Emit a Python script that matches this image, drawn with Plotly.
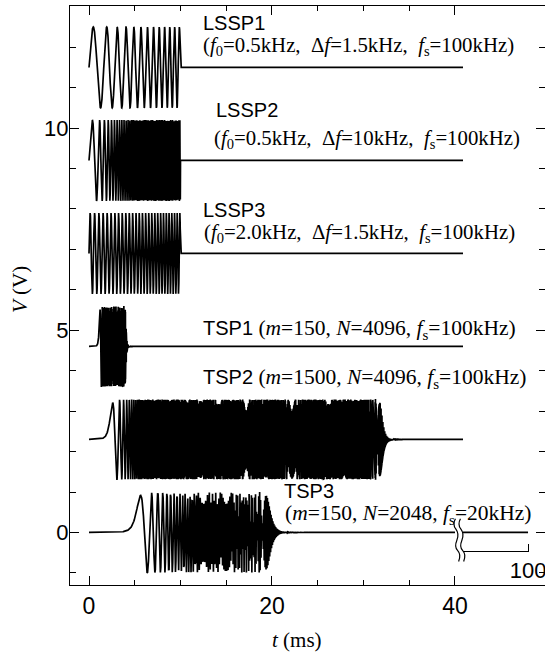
import numpy as np
import plotly.graph_objects as go

# ---------------- data (parameters) ----------------
lssp_names = ["LSSP1", "LSSP2", "LSSP3"]
lssp_f0_khz = [0.5, 0.5, 2.0]          # start frequency
lssp_df_khz = [1.5, 10.0, 1.5]         # sweep width
lssp_fs_khz = [100.0, 100.0, 100.0]    # sampling frequency
lssp_sweep_ms = [10.0, 10.0, 10.0]     # sweep duration
lssp_N = [4096, 4096, 4096]            # record length (samples)
lssp_offset_v = [11.5, 9.2, 6.9]       # vertical offset of each trace

tsp_names = ["TSP1", "TSP2", "TSP3"]
tsp_m = [150, 1500, 150]
tsp_N = [4096, 4096, 2048]
tsp_fs_khz = [100.0, 100.0, 20.0]
tsp_shift = [108, 218, 100]            # circular shift (samples)
tsp_offset_v = [4.6, 2.3, 0.0]

amplitude_v = [1.0, 1.0, 1.0]

x_tick_vals = [0, 20, 40]
y_tick_vals = [0, 5, 10]
break_ms = 40.0                        # axis break position (TSP3 tail)
inset_range_ms = [92.9, 100.15]        # part of TSP3 shown after the break
inset_tick_vals = [100]

SANS = "Liberation Sans"
SERIF = "Liberation Serif"
LW = 1.7

W, H_ = 545, 655
ML, MR, MT, MB = 70, 0, 6, 70
pw = W - ML - MR
ph = H_ - MT - MB


def px_x(px):
    return (px - ML) / pw


def px_y(py):
    return (H_ - MB - py) / ph


fig = go.Figure()

# LSSP signals
for name, f0, df, fs, T, N, off, a in zip(lssp_names, lssp_f0_khz, lssp_df_khz,
                                          lssp_fs_khz, lssp_sweep_ms, lssp_N,
                                          lssp_offset_v, amplitude_v):
    t = np.arange(N) / fs
    y = np.where(t < T, a * np.sin(2 * np.pi * (f0 * t + df * t ** 2 / (2 * T))), 0.0)
    fig.add_trace(go.Scatter(x=t, y=y + off, mode="lines",
                             line=dict(color="black", width=LW),
                             hoverinfo="skip", showlegend=False, name=name))

# TSP signals
for name, m, N, fs, sh, off in zip(tsp_names, tsp_m, tsp_N, tsp_fs_khz,
                                   tsp_shift, tsp_offset_v):
    k = np.arange(N // 2 + 1)
    H = np.exp(-1j * 4 * m * np.pi * k ** 2 / N ** 2)
    h = np.fft.irfft(H, n=N)
    h = h / np.max(np.abs(h))
    h = np.roll(h, sh)
    t = np.arange(N) / fs
    y = h + off
    if name == "TSP3":
        mask = t <= break_ms
        fig.add_trace(go.Scatter(x=t[mask], y=y[mask], mode="lines",
                                 line=dict(color="black", width=LW),
                                 hoverinfo="skip", showlegend=False, name=name))
        mask2 = (t >= inset_range_ms[0]) & (t <= 100.0)
        fig.add_trace(go.Scatter(x=t[mask2], y=y[mask2], mode="lines",
                                 xaxis="x2", yaxis="y",
                                 line=dict(color="black", width=LW),
                                 hoverinfo="skip", showlegend=False,
                                 name=name + " tail"))
    else:
        fig.add_trace(go.Scatter(x=t, y=y, mode="lines",
                                 line=dict(color="black", width=LW),
                                 hoverinfo="skip", showlegend=False, name=name))

# ---------------- text labels ----------------
def sp(txt):
    return f'<span style="font-family:{SANS};font-size:20px">{txt}</span>'


NB = "\u00a0"
labels = [
    # (x ms, y V, text, font family, size)
    (12.3, 12.6, "LSSP1", SANS, 20),
    (12.3, 12.02, f"(<i>f</i><sub>0</sub>=0.5kHz,{NB} Δ<i>f</i>=1.5kHz,{NB} <i>f</i><sub>s</sub>=100kHz)", SERIF, 20.8),
    (13.8, 10.45, "LSSP2", SANS, 20),
    (13.5, 9.72, f"(<i>f</i><sub>0</sub>=0.5kHz,{NB} Δ<i>f</i>=10kHz,{NB} <i>f</i><sub>s</sub>=100kHz)", SERIF, 20.8),
    (12.3, 7.97, "LSSP3", SANS, 20),
    (12.5, 7.4, f"(<i>f</i><sub>0</sub>=2.0kHz,{NB} Δ<i>f</i>=1.5kHz,{NB} <i>f</i><sub>s</sub>=100kHz)", SERIF, 20.8),
    (12.3, 5.02, sp("TSP1") + " (<i>m</i>=150, <i>N</i>=4096, <i>f</i><sub>s</sub>=100kHz)", SERIF, 21.5),
    (12.3, 3.8, sp("TSP2") + " (<i>m</i>=1500, <i>N</i>=4096, <i>f</i><sub>s</sub>=100kHz)", SERIF, 21.5),
    (21.2, 1.02, "TSP3", SANS, 20),
    (21.3, 0.45, "(<i>m</i>=150, <i>N</i>=2048, <i>f</i><sub>s</sub>=20kHz)", SERIF, 21.5),
]
for x, y, txt, fam, size in labels:
    fig.add_annotation(x=x, y=y, xref="x", yref="y", text=txt, showarrow=False,
                       xanchor="left", yanchor="middle", borderpad=0,
                       font=dict(family=fam, size=size, color="black"))

# axis titles
fig.add_annotation(x=px_x(297), y=px_y(640), xref="paper", yref="paper",
                   text="<i>t</i> (ms)", showarrow=False,
                   xanchor="center", yanchor="middle",
                   font=dict(family=SERIF, size=21, color="black"))
fig.add_annotation(x=px_x(20), y=px_y(290), xref="paper", yref="paper",
                   text="<i>V</i> (V)", textangle=-90, showarrow=False,
                   xanchor="center", yanchor="middle",
                   font=dict(family=SERIF, size=21, color="black"))


# axis-break marks
def wave(x0):
    return (f"M {x0},0.34 Q {x0-0.35},0.2 {x0+0.05},0.08 T {x0+0.15},-0.2 "
            f"T {x0+0.25},-0.45 T {x0+0.35},-0.72")


for x0 in (break_ms + 0.05, break_ms + 0.6):
    fig.add_shape(type="path", path=wave(x0), xref="x", yref="y",
                  line=dict(color="black", width=1.2))

axis_common = dict(showline=True, linecolor="black", linewidth=1, mirror="ticks",
                   ticks="inside", tickcolor="black", tickwidth=1, ticklen=9,
                   showgrid=False, zeroline=False, automargin=False)

fig.update_layout(
    width=W, height=H_,
    margin=dict(l=ML, r=MR, t=MT, b=MB, autoexpand=False),
    paper_bgcolor="white", plot_bgcolor="white",
    xaxis=dict(range=[-2.077, 49.84], tickvals=x_tick_vals,
               minor=dict(dtick=5, tick0=0, ticks="inside", ticklen=5,
                          tickcolor="black", tickwidth=1),
               tickfont=dict(family=SANS, size=23, color="black"),
               **axis_common),
    yaxis=dict(range=[-1.30, 13.02], tickvals=y_tick_vals,
               minor=dict(dtick=1, tick0=0, ticks="inside", ticklen=6,
                          tickcolor="black", tickwidth=1),
               tickfont=dict(family=SANS, size=22, color="black"),
               ticklabelstandoff=-4,
               **axis_common),
    xaxis2=dict(domain=[px_x(463), px_x(529.4)], range=inset_range_ms,
                anchor="free", position=px_y(550.7),
                showline=True, linecolor="black", linewidth=1,
                ticks="inside", ticklen=7, tickcolor="black", tickwidth=1.2,
                tickmode="array", tickvals=inset_tick_vals,
                ticktext=[str(v) for v in inset_tick_vals],
                ticklabeloverflow="allow", automargin=False,
                showgrid=False, zeroline=False,
                tickfont=dict(family=SANS, size=22, color="black")),
    showlegend=False,
)

fig.write_html("out.html")
